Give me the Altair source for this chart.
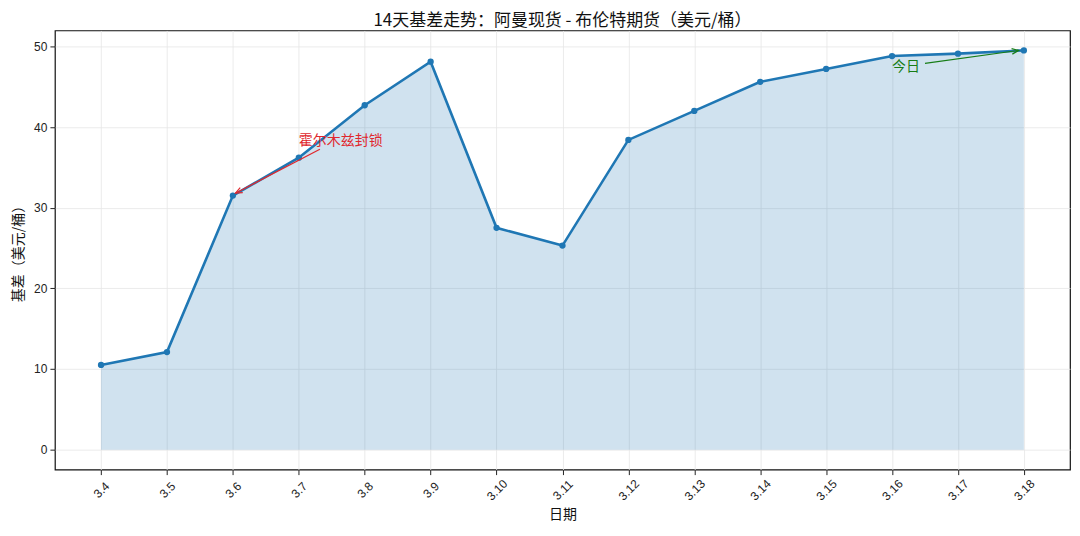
import json
import altair as alt
import pandas as pd

dates = ["3.4", "3.5", "3.6", "3.7", "3.8", "3.9", "3.10", "3.11", "3.12",
         "3.13", "3.14", "3.15", "3.16", "3.17", "3.18"]
basis = [10.5, 12.1, 31.5, 36.2, 42.7, 48.1, 27.5, 25.3, 38.4,
         42.0, 45.6, 47.2, 48.8, 49.1, 49.5]

ann_text = ["霍尔木兹封锁", "今日"]
ann_text_x = [3.0, 12.0]
ann_text_y = [37.8, 47.0]
ann_from_x = [3.32, 12.5]
ann_from_y = [37.25, 47.9]
ann_to_x = [2.04, 13.92]
ann_to_y = [31.8, 49.5]
ann_color = ["#e0282e", "#167d16"]
ann_angle = [243, 82]

FONT = "Liberation Sans, Noto Sans CJK SC"
CJK = "Noto Sans CJK SC"
BLUE = "#1f77b4"

df = pd.DataFrame({"i": list(range(len(dates))), "date": dates, "basis": basis})
ann = pd.DataFrame({
    "text": ann_text, "tx": ann_text_x, "ty": ann_text_y,
    "fx": ann_from_x, "fy": ann_from_y, "ex": ann_to_x, "ey": ann_to_y,
    "color": ann_color, "angle": ann_angle,
})

label_expr = json.dumps(dates) + "[datum.value]"

xscale = alt.Scale(domain=[-0.7, len(dates) - 0.3], nice=False, zero=False)
yscale = alt.Scale(domain=[-2.475, 51.975], nice=False, zero=False)

x_enc = alt.X(
    "i:Q", scale=xscale, title="日期",
    axis=alt.Axis(values=list(range(len(dates))), labelExpr=label_expr,
                  labelAngle=-45, labelAlign="center", labelBaseline="middle",
                  labelPadding=15, titlePadding=5),
)
y_enc = alt.Y(
    "basis:Q", scale=yscale, title="基差（美元/桶）",
    axis=alt.Axis(values=[0, 10, 20, 30, 40, 50], titlePadding=8),
)

base = alt.Chart(df)
area = base.mark_area(color=BLUE, opacity=0.21).encode(
    x=x_enc, y=y_enc, y2=alt.datum(0)
)
line = base.mark_line(color=BLUE, strokeWidth=2.6).encode(x="i:Q", y="basis:Q")
pts = base.mark_circle(color=BLUE, size=40, opacity=1).encode(x="i:Q", y="basis:Q")

abase = alt.Chart(ann)
rules = abase.mark_rule(strokeWidth=1.2).encode(
    x="fx:Q", y="fy:Q", x2="ex:Q", y2="ey:Q",
    color=alt.Color("color:N", scale=None),
)
heads = abase.mark_point(
    shape="M -0.42 1 L 0 0 L 0.42 1", filled=False, size=180, strokeWidth=1.2, opacity=1
).encode(
    x="ex:Q", y="ey:Q", angle=alt.Angle("angle:Q", scale=None),
    color=alt.Color("color:N", scale=None),
)
texts = abase.mark_text(align="left", baseline="alphabetic", font=CJK, fontSize=14).encode(
    x="tx:Q", y="ty:Q", text="text:N", color=alt.Color("color:N", scale=None),
)

chart = alt.layer(area, line, pts, rules, heads, texts).properties(
    width=1017, height=440,
    title=alt.TitleParams("14天基差走势：阿曼现货 - 布伦特期货（美元/桶）",
                          font=CJK, fontSize=17, fontWeight="normal",
                          color="#111", offset=0, frame="group", anchor="middle"),
    padding={"left": 3, "top": 4, "right": 2, "bottom": 2},
).configure_view(stroke="#111", strokeWidth=1.2).configure_axis(
    domain=False, grid=True, gridColor="#e6e6e6", gridWidth=0.8,
    tickColor="#222", tickSize=5, tickWidth=1,
    labelFont=FONT, labelFontSize=12, labelColor="#222", labelPadding=3,
    titleFont=CJK, titleFontSize=14, titleFontWeight="normal", titleColor="#111",
)

chart.save("out.html", embed_options={"renderer": "svg", "actions": False})
